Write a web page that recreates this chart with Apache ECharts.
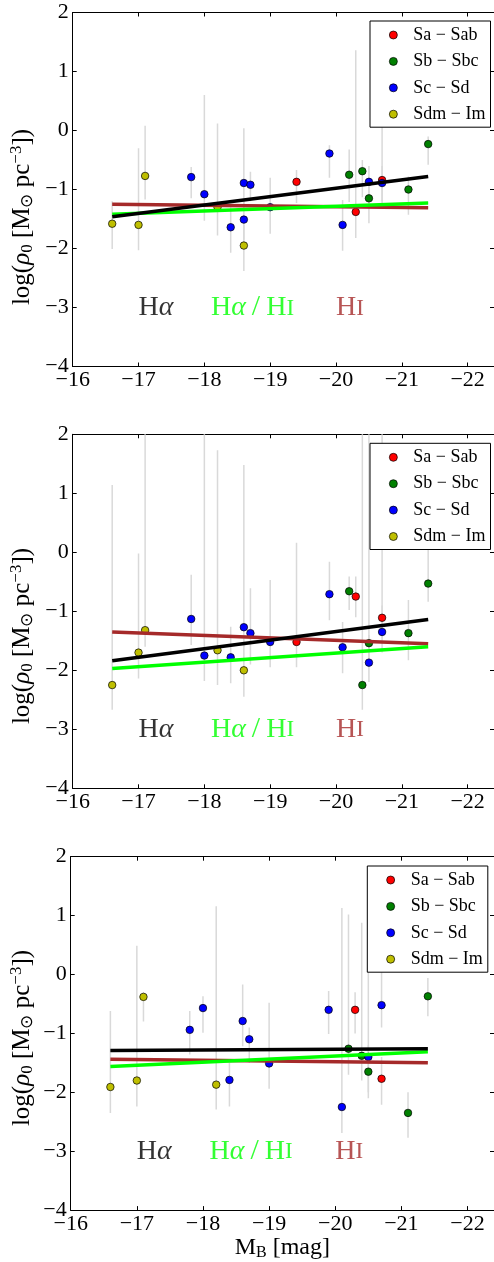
<!DOCTYPE html>
<html>
<head>
<meta charset="utf-8">
<script src="https://cdn.jsdelivr.net/npm/echarts@6/dist/echarts.min.js"></script>
<style>
html,body{margin:0;padding:0;background:#fff;}
#chart{width:494px;height:1262px;}
</style>
</head>
<body>
<div id="chart"></div>
<script>
// ---------- DATA ----------
const typeNames = ['Sa − Sab', 'Sb − Sbc', 'Sc − Sd', 'Sdm − Im'];
const typeColors = ['#ff0000', '#008000', '#0000ff', '#bfbf00'];
const xTicks = [-16, -17, -18, -19, -20, -21, -22];
const yTicks = [-4, -3, -2, -1, 0, 1, 2];

// absolute B magnitude of each galaxy
const mag = [-16.6, -17.0, -17.1, -17.8, -18.0, -18.2, -18.4, -18.6, -18.6, -18.6, -18.7, -19.0,
             -19.4, -19.9, -20.1, -20.2, -20.3, -20.4, -20.5, -20.5, -20.7, -20.7, -21.1, -21.4];
// morphological group index (0 Sa-Sab, 1 Sb-Sbc, 2 Sc-Sd, 3 Sdm-Im)
const morph = [3, 3, 3, 2, 2, 3, 2, 2, 2, 3, 2, 2,
               0, 2, 2, 1, 0, 1, 2, 1, 0, 2, 1, 1];

// panel 1
const rho1 = [-1.58, -1.60, -0.77, -0.79, -1.08, -1.30, -1.64, -0.89, -1.51, -1.95, -0.92, -1.30,
              -0.87, -0.39, -1.60, -0.75, -1.38, -0.69, -0.87, -1.15, -0.84, -0.89, -1.00, -0.23];
const lo1 = [-2.01, -2.03, -1.17, -1.15, -1.53, -1.78, -2.07, -1.30, -1.85, -2.38, -1.20, -1.75,
             -1.23, -0.80, -2.04, -1.21, -1.82, -1.13, -1.30, -1.57, -1.23, -1.20, -1.43, -0.58];
const hi1 = [-1.20, -0.30, 0.08, -0.62, 0.60, 0.12, -1.30, 0.04, -1.20, -1.60, -0.70, -0.80,
             -0.67, -0.25, -1.18, -0.32, 1.36, -0.50, -0.60, -0.80, 0.06, -0.60, -0.78, -0.10];
// panel 2
const rho2 = [-2.25, -1.70, -1.32, -1.13, -1.75, -1.66, -1.78, -1.27, null, -2.00, -1.37, -1.52,
              -1.52, -0.71, -1.61, -0.66, -0.75, -2.25, -1.87, -1.54, -1.11, -1.35, -1.37, -0.53];
const lo2 = [-2.67, -2.14, -1.60, -1.57, -2.18, -2.25, -2.22, -1.60, null, -2.45, -1.90, -1.95,
             -1.95, -1.15, -2.05, -0.98, -1.10, -2.67, -2.20, -1.90, -1.45, -1.70, -1.83, -0.84];
const hi2 = [1.14, -0.02, 2.50, -0.38, 2.50, 1.73, -1.26, 1.48, null, -1.50, -0.61, -0.47,
             0.16, -0.16, -1.18, -0.41, -0.41, 2.50, -1.40, 2.50, 2.50, -0.90, -0.81, 0.04];
// panel 3
const rho3 = [-1.91, -1.80, -0.38, -0.94, -0.57, -1.87, -1.79, -0.79, null, null, -1.10, -1.51,
              null, -0.60, -2.25, -1.26, -0.60, -1.38, -1.40, -1.65, -1.77, -0.52, -2.35, -0.37];
const lo3 = [-2.35, -2.24, -0.80, -1.36, -0.99, -2.29, -2.24, -1.22, null, null, -1.50, -1.94,
             null, -1.01, -2.69, -1.70, -1.00, -1.80, -2.10, -2.00, -2.21, -0.90, -2.77, -0.71];
const hi3 = [-0.62, 0.49, -0.30, -0.62, -0.37, 1.16, -1.50, -0.17, null, null, -0.90, -0.48,
             null, -0.28, 1.13, 1.02, -0.30, 0.88, 0.14, -1.20, -1.40, 0.16, -2.00, -0.06];

// linear fits (end points at the magnitude limits)
const fitX = [-16.6, -21.4];
const fitHa = [[-1.46, -0.78], [-1.84, -1.14], [-1.29, -1.26]];
const fitHaHI = [[-1.42, -1.23], [-1.97, -1.60], [-1.56, -1.31]];
const fitHI = [[-1.25, -1.31], [-1.35, -1.55], [-1.44, -1.50]];

// annotation labels
const annoX = [-17.0, -18.1, -20.0];
const annoY = -3;

// ---------- CHART ----------
const rhos = [rho1, rho2, rho3], los = [lo1, lo2, lo3], his = [hi1, hi2, hi3];
const SERIF = '"Liberation Serif", "Times New Roman", serif';
const minus = v => String(v).replace('-', '\u2212');

const panels = [
  {left: 72.7, top: 12.5, width: 424.6, legendLeft: 370, legendTop: 21, titleY: 217},
  {left: 72.7, top: 434.3, width: 424.6, legendLeft: 370, legendTop: 443.3, titleY: 636},
  {left: 70.7, top: 856.7, width: 425.2, legendLeft: 367.3, legendTop: 866, titleY: 1038}
];
const PH = 354;

const grid = [], xAxis = [], yAxis = [], series = [], legend = [], graphic = [];

panels.forEach((p, i) => {
  grid.push({left: p.left, top: p.top, width: p.width, height: PH, containLabel: false});
  const xCommon = {
    gridIndex: i, type: 'value', min: -22.4, max: -16, inverse: true,
    axisLine: {show: true, onZero: false, lineStyle: {color: '#000', width: 1}},
    splitLine: {show: false}
  };
  xAxis.push(Object.assign({}, xCommon, {
    position: 'bottom',
    axisTick: {show: true, inside: true, length: 4, customValues: xTicks, lineStyle: {color: '#000'}},
    axisLabel: {show: true, customValues: xTicks, formatter: minus, fontFamily: SERIF, fontSize: 22, color: '#000', margin: 3},
    name: i === 2 ? '{n|M}{s|B}{n| [mag]}' : '',
    nameLocation: 'middle', nameGap: 15,
    nameTextStyle: {rich: {
      n: {fontFamily: SERIF, fontSize: 24, color: '#000', lineHeight: 26},
      s: {fontFamily: SERIF, fontSize: 16, color: '#000', lineHeight: 16, verticalAlign: 'bottom'}
    }}
  }));
  xAxis.push(Object.assign({}, xCommon, {
    position: 'top',
    axisTick: {show: true, inside: true, length: 4, customValues: xTicks, lineStyle: {color: '#000'}},
    axisLabel: {show: false}
  }));
  const yCommon = {
    gridIndex: i, type: 'value', min: -4, max: 2, interval: 1,
    axisLine: {show: true, onZero: false, lineStyle: {color: '#000', width: 1}},
    axisTick: {show: true, inside: true, length: 4, lineStyle: {color: '#000'}},
    splitLine: {show: false}
  };
  yAxis.push(Object.assign({}, yCommon, {
    position: 'left',
    axisLabel: {formatter: minus, fontFamily: SERIF, fontSize: 22, color: '#000', margin: 4}
  }));
  yAxis.push(Object.assign({}, yCommon, {position: 'right', axisLabel: {show: false}}));

  const xi = i * 2, yi = i * 2;
  // error bars
  const errData = [];
  mag.forEach((m, k) => {
    if (rhos[i][k] !== null) errData.push([m, los[i][k], his[i][k]]);
  });
  series.push({
    type: 'custom', xAxisIndex: xi, yAxisIndex: yi, z: 1, clip: true, silent: true,
    data: errData,
    renderItem: (params, api) => {
      const a = api.coord([api.value(0), api.value(1)]);
      const b = api.coord([api.value(0), api.value(2)]);
      return {type: 'line', shape: {x1: a[0], y1: a[1], x2: b[0], y2: b[1]},
              style: {stroke: '#d9d9d9', lineWidth: 1.5}};
    }
  });
  // points by morphological group
  typeNames.forEach((tn, t) => {
    const d = [];
    mag.forEach((m, k) => {
      if (morph[k] === t && rhos[i][k] !== null) d.push([m, rhos[i][k]]);
    });
    series.push({
      type: 'scatter', name: tn, xAxisIndex: xi, yAxisIndex: yi, z: 2,
      symbol: 'circle', symbolSize: 7.5, data: d,
      itemStyle: {color: typeColors[t], borderColor: '#000', borderWidth: 0.7, opacity: 1}
    });
  });
  // fit lines
  [[fitHI[i], '#a52a2a'], [fitHaHI[i], '#00ff00'], [fitHa[i], '#000000']].forEach(([f, c]) => {
    series.push({
      type: 'line', xAxisIndex: xi, yAxisIndex: yi, z: 3, symbol: 'none', silent: true,
      data: [[fitX[0], f[0]], [fitX[1], f[1]]],
      lineStyle: {color: c, width: 3.5}
    });
  });
  // annotations
  series.push({
    type: 'scatter', xAxisIndex: xi, yAxisIndex: yi, z: 4, symbolSize: 0, silent: true,
    data: annoX.map(v => [v, annoY]),
    label: {
      show: true, position: 'right', distance: 0,
      formatter: (pp) => ['{k|H}{ki|α}', '{g|H}{gi|α}{gl|\u2009/\u2009}{g|H}{gs|I}', '{r|H}{rs|I}'][pp.dataIndex],
      rich: {
        k: {fontFamily: SERIF, fontSize: 28, color: '#000', lineHeight: 32},
        ki: {fontFamily: SERIF, fontSize: 28, fontStyle: 'italic', color: '#000', lineHeight: 32},
        g: {fontFamily: SERIF, fontSize: 28, color: '#00ff00', lineHeight: 32},
        gl: {fontFamily: SERIF, fontSize: 30, color: '#00ff00', lineHeight: 32},
        gi: {fontFamily: SERIF, fontSize: 28, fontStyle: 'italic', color: '#00ff00', lineHeight: 32},
        gs: {fontFamily: SERIF, fontSize: 23, color: '#00ff00', lineHeight: 32, padding: [2, 0, 0, 0]},
        r: {fontFamily: SERIF, fontSize: 28, color: '#a52a2a', lineHeight: 32},
        rs: {fontFamily: SERIF, fontSize: 23, color: '#a52a2a', lineHeight: 32, padding: [2, 0, 0, 0]}
      }
    }
  });
  // legend
  legend.push({
    data: typeNames, orient: 'vertical', left: p.legendLeft, top: p.legendTop,
    padding: [5, 5, 4, 19], itemGap: 8.4, itemWidth: 8, itemHeight: 8,
    borderColor: '#000', borderWidth: 1, backgroundColor: '#fff', selectedMode: false,
    icon: 'circle',
    itemStyle: {borderColor: '#000', borderWidth: 0.7},
    textStyle: {fontFamily: SERIF, fontSize: 18, color: '#000', lineHeight: 18, padding: [0, 0, 0, 11]}
  });
  // y-axis title
  graphic.push({
    type: 'text', x: 22, y: p.titleY, rotation: Math.PI / 2, silent: true,
    style: {
      text: '{n|log(}{i|ρ}{s|0}{n| [M}{s|⊙}{n| pc}{p|−3}{n|])}',
      align: 'center', verticalAlign: 'middle', textAlign: 'center', textVerticalAlign: 'middle',
      rich: {
        n: {fontFamily: SERIF, fontSize: 25, fill: '#000', lineHeight: 28},
        i: {fontFamily: SERIF, fontSize: 25, fontStyle: 'italic', fill: '#000', lineHeight: 28},
        s: {fontFamily: SERIF, fontSize: 17, fill: '#000', lineHeight: 14, verticalAlign: 'bottom'},
        p: {fontFamily: SERIF, fontSize: 17, fill: '#000', lineHeight: 14, verticalAlign: 'top'}
      }
    }
  });
});

const chart = echarts.init(document.getElementById('chart'), null, {renderer: 'canvas'});
chart.setOption({
  animation: false,
  backgroundColor: '#fff',
  grid, xAxis, yAxis, series, legend, graphic
});
</script>
</body>
</html>
